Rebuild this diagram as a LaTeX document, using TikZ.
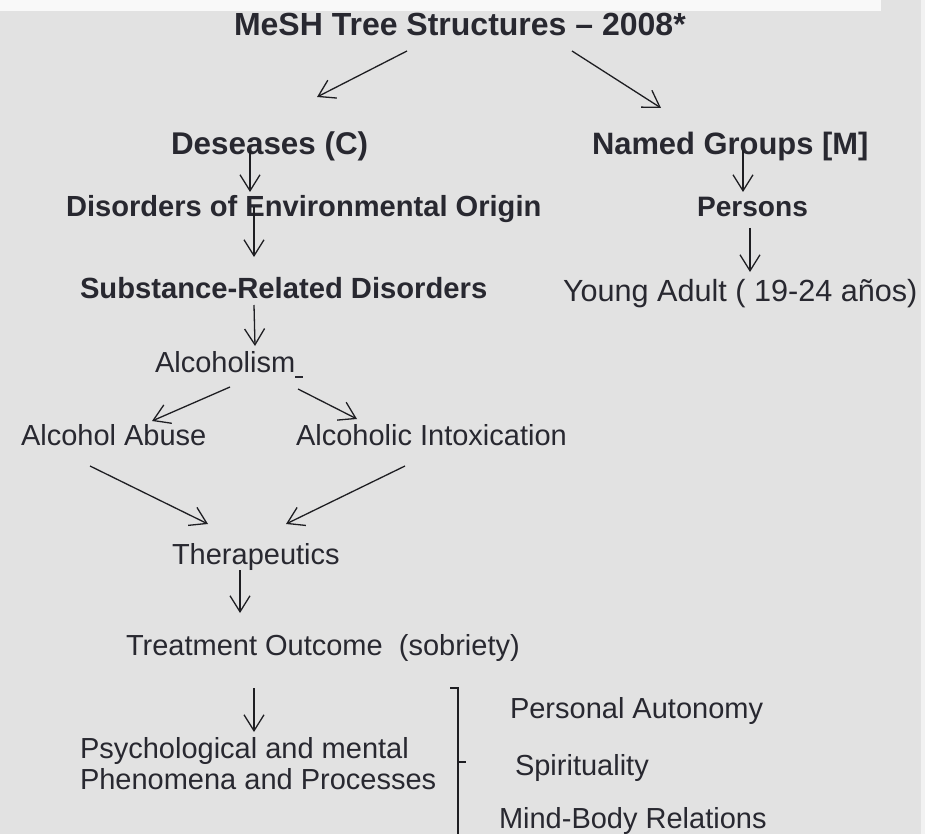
\documentclass[tikz,border=0pt]{standalone}
\usepackage{fontspec}
\setmainfont{Liberation Sans}
\usetikzlibrary{arrows.meta}
\definecolor{bgc}{RGB}{226,226,226}
\definecolor{stripc}{RGB}{249,249,249}
\definecolor{rstripc}{RGB}{242,242,242}
\definecolor{txtc}{RGB}{40,40,48}
\definecolor{linec}{RGB}{30,30,34}
\tikzset{
  lbl/.style={inner sep=0pt, outer sep=0pt, text=txtc, anchor=base west, font=\fontsize{29}{31}\selectfont},
  blbl/.style={lbl, font=\fontsize{#1}{33}\selectfont\bfseries},
  arr/.style={draw=linec, line width=1.3pt, -{Straight Barb[length=16pt,width=20pt,line width=1.3pt]}},
  brk/.style={draw=linec, line width=1.5pt}
}
\begin{document}
\begin{tikzpicture}[x=1pt,y=-1pt]
\useasboundingbox (0,0) rectangle (925,834);
\fill[bgc] (0,0) rectangle (925,834);
\fill[stripc] (0,0) rectangle (881,11);
\fill[rstripc] (921,0) rectangle (925,834);

% texts
\node[blbl=32] (title) at (234,36) {MeSH Tree Structures – 2008*};
\node[blbl=31.4] (des) at (171,155) {Deseases (C)};
\node[blbl=29.1] (dis) at (66,217) {Disorders of Environmental Origin};
\node[blbl=29.2] (sub) at (80,298) {Substance-Related Disorders};
\node[blbl=30.9] (named) at (592,155) {Named Groups [M]};
\node[blbl=28.1] (pers) at (697,217) {Persons};
\node[lbl, font=\fontsize{30.6}{33}\selectfont] (young) at (563,301) {Young Adult ( 19-24 años)};
\node[lbl] (alc) at (155,372) {Alcoholism\rule[-6pt]{8pt}{2.4pt}};
\node[lbl] (abuse) at (21,445) {Alcohol Abuse};
\node[lbl] (intox) at (296,445) {Alcoholic Intoxication};
\node[lbl] (ther) at (172,564) {Therapeutics};
\node[lbl] (treat) at (126,655) {Treatment Outcome \ (sobriety)};
\node[lbl, align=left] (psych) at (80,789) {Psychological and mental\\Phenomena and Processes};
\node[lbl] (auto) at (510,718) {Personal Autonomy};
\node[lbl] (spir) at (515,775) {Spirituality};
\node[lbl] (mind) at (499,828) {Mind-Body Relations};

% arrow end points
\coordinate (a1s) at (407,51);  \coordinate (a1e) at (317,97);
\coordinate (a2s) at (572,51);  \coordinate (a2e) at (661,108);
\coordinate (a3s) at (250,150); \coordinate (a3e) at (250,192);
\coordinate (a4s) at (254,207); \coordinate (a4e) at (254,257);
\coordinate (a5s) at (254,305); \coordinate (a5e) at (255,346);
\coordinate (a6s) at (743,150); \coordinate (a6e) at (743,192);
\coordinate (a7s) at (750,228); \coordinate (a7e) at (750,272);
\coordinate (a8s) at (230,387); \coordinate (a8e) at (152,421);
\coordinate (a9s) at (298,389); \coordinate (a9e) at (357,419);
\coordinate (a10s) at (90,466); \coordinate (a10e) at (208,524);
\coordinate (a11s) at (405,466); \coordinate (a11e) at (286,524);
\coordinate (a12s) at (240,570); \coordinate (a12e) at (240,613);
\coordinate (a13s) at (254,688); \coordinate (a13e) at (254,732);

\draw[arr] (a1s) -- (a1e);
\draw[arr] (a2s) -- (a2e);
\draw[arr] (a3s) -- (a3e);
\draw[arr] (a4s) -- (a4e);
\draw[arr] (a5s) -- (a5e);
\draw[arr] (a6s) -- (a6e);
\draw[arr] (a7s) -- (a7e);
\draw[arr] (a8s) -- (a8e);
\draw[arr] (a9s) -- (a9e);
\draw[arr] (a10s) -- (a10e);
\draw[arr] (a11s) -- (a11e);
\draw[arr] (a12s) -- (a12e);
\draw[arr] (a13s) -- (a13e);

% bracket
\coordinate (b1) at (450,688);
\coordinate (b2) at (458,688);
\coordinate (b3) at (458,836);
\coordinate (bm) at (458,762);
\coordinate (bt) at (466,762);
\draw[brk] (b1) -- (b2) -- (b3);
\draw[brk] (bm) -- (bt);
\end{tikzpicture}
\end{document}
